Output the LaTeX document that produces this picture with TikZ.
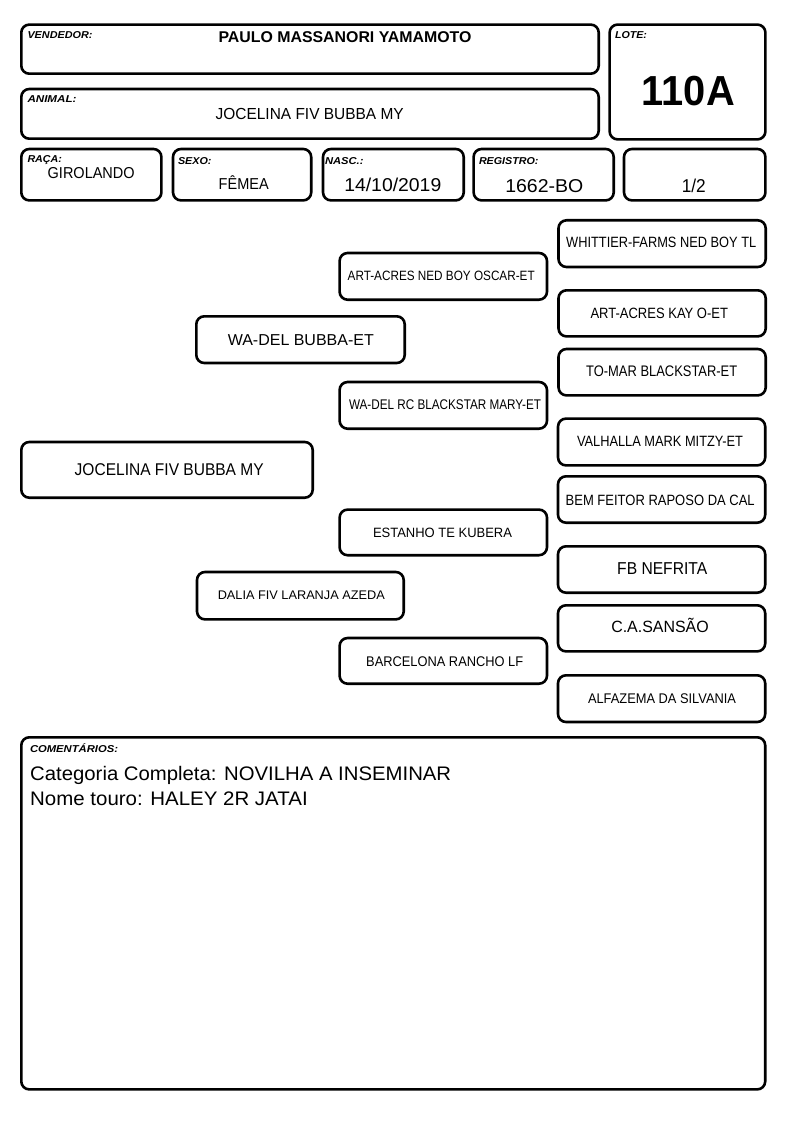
\documentclass[tikz,border=0pt]{standalone}
\usepackage{fontspec}
\setmainfont{Liberation Sans}
\usepackage{graphicx}
\usetikzlibrary{fit}
\tikzset{
  box/.style={draw=black, line width=2.6pt, rounded corners=8pt, inner sep=0pt, fill=white},
  txt/.style={inner sep=0pt, outer sep=0pt, anchor=base},
  lbl/.style={inner sep=0pt, outer sep=0pt, anchor=base west, font=\bfseries\itshape}
}
% box: name, x1, y1, x2, y2 (outer edges, pixel coords, y down)
\newcommand{\mybox}[5]{\node[box, fit={(#2+1.3,#3+1.3) (#4-1.3,#5-1.3)}] (#1) {};}
% centred text: name, cx, baseline, size, width, text
\newcommand{\ctxt}[6]{\node[txt] (#1) at (#2,#3) {\fontsize{#4}{#4}\selectfont\resizebox{#5pt}{\height}{#6}};}
% left label: name, x, baseline, width, text
\newcommand{\ltxt}[5]{\node[lbl] (#1) at (#2,#3) {\fontsize{10}{10}\selectfont\bfseries\itshape\resizebox{#4pt}{\height}{#5}};}
\newcommand{\wtxt}[6]{\node[inner sep=0pt, anchor=base west] (#1) at (#2,#3) {\fontsize{#4}{#4}\selectfont\resizebox{#5pt}{\height}{#6}};}
\begin{document}
\begin{tikzpicture}[x=1pt, y=-1pt]
\useasboundingbox[fill=white] (0,0) rectangle (794,1123);
% header boxes
\mybox{vend}{20}{23.3}{600}{75}
\mybox{anim}{20}{87.7}{600}{140}
\mybox{lote}{608.3}{23.3}{766.7}{140.7}
\mybox{raca}{20}{147.7}{162.7}{201.7}
\mybox{sexo}{171.7}{147.7}{312.5}{201.7}
\mybox{nasc}{321.7}{147.7}{465}{201.7}
\mybox{reg}{472.3}{147.7}{615}{201.7}
\mybox{frac}{622.7}{147.7}{766.7}{201.7}
% labels
\ltxt{lv}{27.5}{38.5}{65}{VENDEDOR:}
\ltxt{la}{27.5}{102.5}{49}{ANIMAL:}
\ltxt{ll}{615}{39}{32}{LOTE:}
\ltxt{lr}{27.5}{162.7}{34.5}{RAÇA:}
\ltxt{ls}{178}{164.3}{33.5}{SEXO:}
\ltxt{ln}{325}{164.5}{38.5}{NASC.:}
\ltxt{lg}{479}{165}{59.5}{REGISTRO:}
% values
\ctxt{vname}{345}{42.3}{15.6}{253}{\bfseries PAULO MASSANORI YAMAMOTO}
\ctxt{aname}{309.7}{119.3}{16}{188}{JOCELINA FIV BUBBA MY}
\ctxt{lnum}{688.3}{105.7}{42}{93}{\bfseries 110A}
\ctxt{vraca}{91.2}{178.3}{15.8}{87}{GIROLANDO}
\ctxt{vsexo}{243.7}{189.7}{15.8}{50}{FÊMEA}
\ctxt{vnasc}{392.8}{191.7}{18.6}{97}{14/10/2019}
\ctxt{vreg}{544.3}{192.3}{18.6}{78}{1662-BO}
\ctxt{vfrac}{693.8}{192.3}{18.6}{24}{1/2}
% pedigree
\mybox{g1}{20}{440.7}{314}{499}
\ctxt{t1}{169.2}{475.7}{17}{189}{JOCELINA FIV BUBBA MY}
\mybox{g2a}{195}{315}{406}{364.3}
\ctxt{t2a}{300.8}{345.7}{15.8}{146}{WA-DEL BUBBA-ET}
\mybox{g2b}{195.7}{570.7}{405}{620.7}
\ctxt{t2b}{301.3}{599.3}{12.5}{167}{DALIA FIV LARANJA AZEDA}
\mybox{g3a}{338.3}{251.7}{548.3}{301}
\ctxt{t3a}{441.2}{280.7}{13.5}{187}{ART-ACRES NED BOY OSCAR-ET}
\mybox{g3b}{338.3}{380.7}{548.3}{430}
\ctxt{t3b}{445}{409.3}{14}{192}{WA-DEL RC BLACKSTAR MARY-ET}
\mybox{g3c}{338.3}{508.3}{548.3}{556.5}
\ctxt{t3c}{442.5}{537.3}{13.5}{139}{ESTANHO TE KUBERA}
\mybox{g3d}{338.3}{636.7}{548.3}{685}
\ctxt{t3d}{444.7}{666.7}{14}{157}{BARCELONA RANCHO LF}
\mybox{g4a}{557.2}{219}{767}{268.3}
\ctxt{t4a}{661.2}{247.3}{14.9}{190}{WHITTIER-FARMS NED BOY TL}
\mybox{g4b}{557.2}{289}{767}{337.7}
\ctxt{t4b}{659.3}{318.3}{14.9}{137.5}{ART-ACRES KAY O-ET}
\mybox{g4c}{557.2}{347.7}{767}{396.7}
\ctxt{t4c}{661.7}{376.7}{15.3}{151}{TO-MAR BLACKSTAR-ET}
\mybox{g4d}{556.7}{417.3}{766.5}{466.7}
\ctxt{t4d}{660}{446.7}{14.9}{166}{VALHALLA MARK MITZY-ET}
\mybox{g4e}{556.7}{475}{766.5}{524}
\ctxt{t4e}{660.2}{505}{14.9}{189}{BEM FEITOR RAPOSO DA CAL}
\mybox{g4f}{556.7}{545}{766.5}{594}
\ctxt{t4f}{662.2}{574}{17.2}{90}{FB NEFRITA}
\mybox{g4g}{556.7}{604}{766.5}{652.7}
\ctxt{t4g}{660}{632.7}{16.3}{97.5}{C.A.SANSÃO}
\mybox{g4h}{556.7}{674}{766.5}{723.3}
\ctxt{t4h}{662}{703.3}{14}{148}{ALFAZEMA DA SILVANIA}
% comments
\mybox{com}{20}{736}{766.5}{1090.7}
\ltxt{lc}{30}{752.7}{88}{COMENTÁRIOS:}
\wtxt{c1}{30}{780.7}{19.6}{421}{Categoria Completa: NOVILHA A INSEMINAR}
\wtxt{c2}{30}{805}{19.6}{277.5}{Nome touro: HALEY 2R JATAI}
\end{tikzpicture}
\end{document}
